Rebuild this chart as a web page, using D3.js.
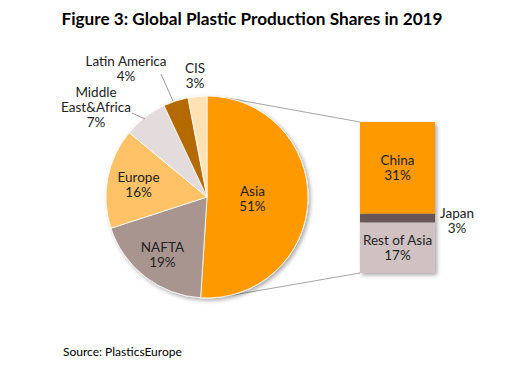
<!DOCTYPE html>
<html><head><meta charset="utf-8">
<script src="https://cdn.jsdelivr.net/npm/d3@7"></script>
<style>
html,body{margin:0;padding:0;background:#fff;}
svg{display:block;font-family:Lato,"Open Sans",sans-serif;}
</style></head>
<body>
<svg id="chart" width="512" height="367"></svg>
<script>
// ---- data ----
const pieCategories = ["Asia","NAFTA","Europe","Middle East&Africa","Latin America","CIS"];
const pieValues = [51,19,16,7,4,3];
const pieColors = ["#FF9900","#A9958F","#FFC266","#E4DCDC","#B46A00","#FFE2B4"];
const barCategories = ["China","Japan","Rest of Asia"];
const barValues = [31,3,17];
const barColors = ["#FF9900","#6B5757","#D0C2C2"];
const titleText = "Figure 3: Global Plastic Production Shares in 2019";
const sourceText = "Source: PlasticsEurope";

// ---- layout ----
const svg = d3.select("#chart");
const cx = 207, cy = 197, R = 101;
const barX = 360, barW = 75, barTop = 122, barBottom = 273;
const textColor = "#222";
const fs = 13.5, lh = 15;

const defs = svg.append("defs");
const f = defs.append("filter").attr("id","sh").attr("x","-20%").attr("y","-20%").attr("width","150%").attr("height","150%");
f.append("feDropShadow").attr("dx",2).attr("dy",2).attr("stdDeviation",2).attr("flood-color","#000").attr("flood-opacity",0.35);

svg.append("text").attr("x",252).attr("y",25).attr("text-anchor","middle")
  .attr("font-weight","bold").attr("font-size",17.2).attr("fill","#000").text(titleText);

// connector lines (tangents from bar corners to the pie)
function tangent(px,py,upper){
  const dx=px-cx, dy=py-cy, d=Math.hypot(dx,dy);
  const base=Math.atan2(dy,dx), off=Math.acos(R/d);
  const a = upper ? base-off : base+off;
  return [cx+R*Math.cos(a), cy+R*Math.sin(a)];
}
const t1=tangent(barX,barTop,true), t2=tangent(barX,barBottom,false);
svg.append("line").attr("x1",t1[0]).attr("y1",t1[1]).attr("x2",barX).attr("y2",barTop).attr("stroke","#A6A6A6").attr("stroke-width",1);
svg.append("line").attr("x1",t2[0]).attr("y1",t2[1]).attr("x2",barX).attr("y2",barBottom).attr("stroke","#A6A6A6").attr("stroke-width",1);

// pie
const pie = d3.pie().sort(null).startAngle(0).endAngle(2*Math.PI);
const arcs = pie(pieValues);
const arc = d3.arc().innerRadius(0).outerRadius(R);
const g = svg.append("g").attr("transform",`translate(${cx},${cy})`);
g.append("g").attr("filter","url(#sh)").selectAll("path").data(arcs).join("path")
  .attr("d",arc).attr("fill",(d,i)=>pieColors[i]).attr("stroke","#fff").attr("stroke-width",0.8);

// inside labels
const inside = [{i:0,k:0.45},{i:1,k:0.72},{i:2,k:0.69}];
inside.forEach(o=>{
  const a=arcs[o.i]; const m=(a.startAngle+a.endAngle)/2;
  const x=Math.sin(m)*R*o.k, y=-Math.cos(m)*R*o.k;
  const t=g.append("text").attr("text-anchor","middle").attr("font-size",fs).attr("fill",textColor);
  t.append("tspan").attr("x",x).attr("y",y-2).text(pieCategories[o.i]);
  t.append("tspan").attr("x",x).attr("y",y-2+lh).text(pieValues[o.i]+"%");
});

// outside labels with leader lines
const outside = [
  {i:3, x:96, y:97, lines:["Middle","East&Africa"], leader:[[132,113],[145,119]]},
  {i:4, x:126, y:66, lines:["Latin America"], leader:[[161,74],[173,101]]},
  {i:5, x:195, y:73, lines:["CIS"], leader:null}
];
outside.forEach(o=>{
  const t=svg.append("text").attr("text-anchor","middle").attr("font-size",fs).attr("fill",textColor);
  const ls=o.lines.concat([pieValues[o.i]+"%"]);
  ls.forEach((s,j)=>t.append("tspan").attr("x",o.x).attr("y",o.y+j*lh).text(s));
  if(o.leader) svg.append("line").attr("x1",o.leader[0][0]).attr("y1",o.leader[0][1])
    .attr("x2",o.leader[1][0]).attr("y2",o.leader[1][1]).attr("stroke","#A69494").attr("stroke-width",1);
});

// stacked bar
const y = d3.scaleLinear().domain([0,d3.sum(barValues)]).range([barTop,barBottom]);
let acc=0;
const segs = barValues.map((v,i)=>{const s={i,v,y0:acc,y1:acc+v}; acc+=v; return s;});
svg.append("g").attr("filter","url(#sh)").selectAll("rect").data(segs).join("rect")
  .attr("x",barX).attr("width",barW).attr("y",d=>y(d.y0)).attr("height",d=>y(d.y1)-y(d.y0))
  .attr("fill",d=>barColors[d.i]);

[0,2].forEach(i=>{
  const s=segs[i]; const my=(y(s.y0)+y(s.y1))/2;
  const t=svg.append("text").attr("text-anchor","middle").attr("font-size",fs).attr("fill",textColor);
  t.append("tspan").attr("x",barX+barW/2).attr("y",my-3).text(barCategories[i]);
  t.append("tspan").attr("x",barX+barW/2).attr("y",my-3+lh).text(barValues[i]+"%");
});
{
  const s=segs[1]; const my=(y(s.y0)+y(s.y1))/2;
  const t=svg.append("text").attr("text-anchor","middle").attr("font-size",fs).attr("fill",textColor);
  t.append("tspan").attr("x",457).attr("y",my).text(barCategories[1]);
  t.append("tspan").attr("x",457).attr("y",my+lh).text(barValues[1]+"%");
}

svg.append("text").attr("x",63).attr("y",356).attr("font-size",12).attr("fill","#000").text(sourceText);
</script>
</body></html>
